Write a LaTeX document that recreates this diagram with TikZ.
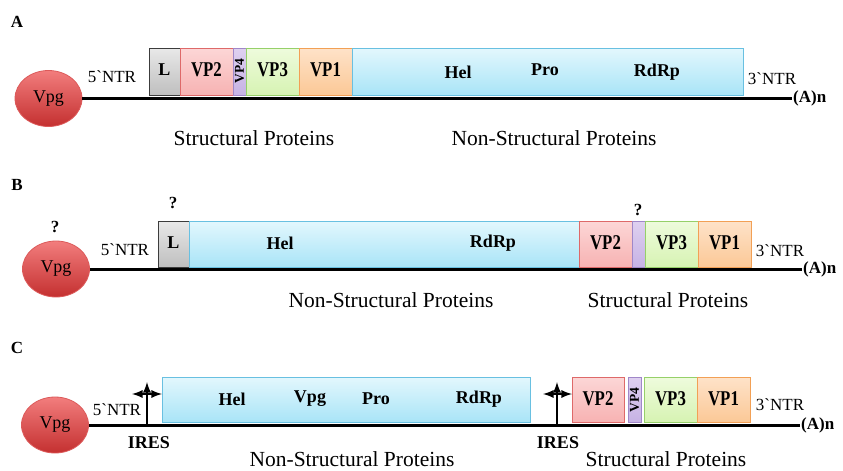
\documentclass[tikz,border=0pt]{standalone}
\usepackage{fontspec}
\usetikzlibrary{shapes.geometric}
\setmainfont{Liberation Serif}[Ligatures=TeXOff]
\newfontfamily\narrowfont{Liberation Serif}[FakeStretch=0.8,Ligatures=TeXOff]
\definecolor{lTop}{RGB}{232,232,232}\definecolor{lBot}{RGB}{190,190,190}\definecolor{lDr}{RGB}{60,60,60}
\definecolor{p2Top}{RGB}{252,214,214}\definecolor{p2Bot}{RGB}{247,178,178}\definecolor{p2Dr}{RGB}{222,105,105}
\definecolor{p4Top}{RGB}{222,208,240}\definecolor{p4Bot}{RGB}{198,178,228}\definecolor{p4Dr}{RGB}{160,135,200}
\definecolor{p3Top}{RGB}{238,251,220}\definecolor{p3Bot}{RGB}{214,243,178}\definecolor{p3Dr}{RGB}{150,208,105}
\definecolor{p1Top}{RGB}{254,226,200}\definecolor{p1Bot}{RGB}{251,200,150}\definecolor{p1Dr}{RGB}{242,160,85}
\definecolor{nsTop}{RGB}{226,247,253}\definecolor{nsBot}{RGB}{168,228,247}\definecolor{nsDr}{RGB}{105,192,225}
\definecolor{vgTop}{RGB}{242,125,125}\definecolor{vgBot}{RGB}{196,48,48}\definecolor{vgDr}{RGB}{220,90,90}
\begin{document}
\begin{tikzpicture}[x=1pt,y=-1pt,
  seg/.style={draw,line width=1.2pt,anchor=north west,inner sep=0pt,minimum height=#1},
  lbox/.style={top color=lTop,bottom color=lBot,draw=lDr},
  vptwo/.style={top color=p2Top,bottom color=p2Bot,draw=p2Dr},
  vpfour/.style={top color=p4Top,bottom color=p4Bot,draw=p4Dr},
  vpthree/.style={top color=p3Top,bottom color=p3Bot,draw=p3Dr},
  vpone/.style={top color=p1Top,bottom color=p1Bot,draw=p1Dr},
  nsbox/.style={top color=nsTop,bottom color=nsBot,draw=nsDr},
  vpg/.style={ellipse,draw=vgDr,line width=0.8pt,top color=vgTop,bottom color=vgBot,minimum width=67pt,minimum height=56pt,inner sep=0pt,font=\fontsize{18}{18}\selectfont},
  rna/.style={line width=3pt},
  ires/.style={line width=2.6pt,-latex},
  boxlbl/.style={font=\narrowfont\fontsize{21}{21}\selectfont\bfseries},
  nslbl/.style={font=\fontsize{18}{18}\selectfont\bfseries},
  reg/.style={font=\fontsize{17}{17}\selectfont},
  big/.style={font=\fontsize{21.5}{21.5}\selectfont},
  bld/.style={font=\fontsize{17}{17}\selectfont\bfseries},
  vpfourlbl/.style={font=\fontsize{13.5}{13.5}\selectfont\bfseries,rotate=90}
]
\useasboundingbox[fill=white] (0,0) rectangle (843,471);

% ---------------- Panel A ----------------
\node[bld] (pA) at (17,22) {A};
\node[vpg] (vA) at (48.5,98.5) {Vpg};
\coordinate (eA) at (792,98.5);
\draw[rna] (vA.east) -- (eA);
\node[bld,anchor=west,inner sep=1pt] (anA) at (eA) {(A)n};
\node[seg=47pt,lbox,minimum width=31pt] (LA) at (149,48) {};
\node[seg=47pt,vptwo,minimum width=53pt] (v2A) at (180,48) {};
\node[seg=47pt,vpfour,minimum width=13pt] (v4A) at (233,48) {};
\node[seg=47pt,vpthree,minimum width=53pt] (v3A) at (246,48) {};
\node[seg=47pt,vpone,minimum width=53pt] (v1A) at (299,48) {};
\node[seg=47pt,nsbox,minimum width=391pt] (nsA) at (352,48) {};
\node[nslbl] (tLA) at (164.5,70) {L};
\node[boxlbl] (t2A) at (206.5,70) {VP2};
\node[vpfourlbl] (t4A) at (239.5,71) {VP4};
\node[boxlbl] (t3A) at (272.5,70) {VP3};
\node[boxlbl] (t1A) at (325.5,70) {VP1};
\node[nslbl] (helA) at (458,72) {Hel};
\node[nslbl] (proA) at (545,70) {Pro};
\node[nslbl] (rdA) at (657,72) {RdRp};
\node[reg] (n5A) at (112,77) {5`NTR};
\node[reg] (n3A) at (772,79) {3`NTR};
\node[big] (spA) at (254,138) {Structural Proteins};
\node[big] (nspA) at (554,138) {Non-Structural Proteins};

% ---------------- Panel B ----------------
\node[bld] (pB) at (17,185) {B};
\node[vpg] (vB) at (56,269) {Vpg};
\coordinate (eB) at (802,269);
\draw[rna] (vB.east) -- (eB);
\node[bld,anchor=west,inner sep=1pt] (anB) at (eB) {(A)n};
\node[seg=46pt,lbox,minimum width=31pt] (LB) at (158,221) {};
\node[seg=46pt,nsbox,minimum width=390pt] (nsB) at (189,221) {};
\node[seg=46pt,vptwo,minimum width=53pt] (v2B) at (579,221) {};
\node[seg=46pt,vpfour,minimum width=13pt] (v4B) at (632,221) {};
\node[seg=46pt,vpthree,minimum width=53pt] (v3B) at (645,221) {};
\node[seg=46pt,vpone,minimum width=53pt] (v1B) at (698,221) {};
\node[nslbl] (tLB) at (173.5,243) {L};
\node[nslbl] (helB) at (280,243) {Hel};
\node[nslbl] (rdB) at (493,243) {RdRp};
\node[boxlbl] (t2B) at (605.5,243) {VP2};
\node[boxlbl] (t3B) at (671.5,243) {VP3};
\node[boxlbl] (t1B) at (724.5,243) {VP1};
\node[bld] (q1B) at (55,227) {?};
\node[bld] (q2B) at (173,203) {?};
\node[bld] (q3B) at (638,210) {?};
\node[reg] (n5B) at (125,250) {5`NTR};
\node[reg] (n3B) at (780,251) {3`NTR};
\node[big] (nspB) at (391,300) {Non-Structural Proteins};
\node[big] (spB) at (668,300) {Structural Proteins};

% ---------------- Panel C ----------------
\node[bld] (pC) at (17,348) {C};
\node[vpg] (vC) at (55,425) {Vpg};
\coordinate (eC) at (800,425);
\draw[rna] (vC.east) -- (eC);
\node[bld,anchor=west,inner sep=1pt] (anC) at (eC) {(A)n};
\node[seg=45pt,nsbox,minimum width=368pt] (nsC) at (162,377) {};
\node[seg=45pt,vptwo,minimum width=52pt] (v2C) at (572,377) {};
\node[seg=45pt,vpfour,minimum width=13pt] (v4C) at (628,377) {};
\node[seg=45pt,vpthree,minimum width=53pt] (v3C) at (644,377) {};
\node[seg=45pt,vpone,minimum width=53pt] (v1C) at (697,377) {};
\node[nslbl] (helC) at (232,399) {Hel};
\node[nslbl] (vpgC) at (310,399) {Vpg};
\node[nslbl] (proC) at (376,399) {Pro};
\node[nslbl] (rdC) at (479,399) {RdRp};
\node[boxlbl] (t2C) at (598,399) {VP2};
\node[vpfourlbl] (t4C) at (634.5,400) {VP4};
\node[boxlbl] (t3C) at (670.5,399) {VP3};
\node[boxlbl] (t1C) at (723.5,399) {VP1};
% IRES symbols
\coordinate (i1b) at (147,425);
\coordinate (i1t) at (147,382);
\coordinate (i1l) at (132,394);
\coordinate (i1r) at (162,394);
\draw[ires] (i1b) -- (i1t);
\draw[ires,latex-latex] (i1l) -- (i1r);
\coordinate (i2b) at (557,425);
\coordinate (i2t) at (557,382);
\coordinate (i2l) at (543,394);
\coordinate (i2r) at (572,394);
\draw[ires] (i2b) -- (i2t);
\draw[ires,latex-latex] (i2l) -- (i2r);
\node[nslbl] (ir1) at (149,443) {IRES};
\node[nslbl] (ir2) at (558,443) {IRES};
\node[reg] (n5C) at (117,410) {5`NTR};
\node[reg] (n3C) at (780,405) {3`NTR};
\node[big] (nspC) at (352,459) {Non-Structural Proteins};
\node[big] (spC) at (666,459) {Structural Proteins};
\end{tikzpicture}
\end{document}
